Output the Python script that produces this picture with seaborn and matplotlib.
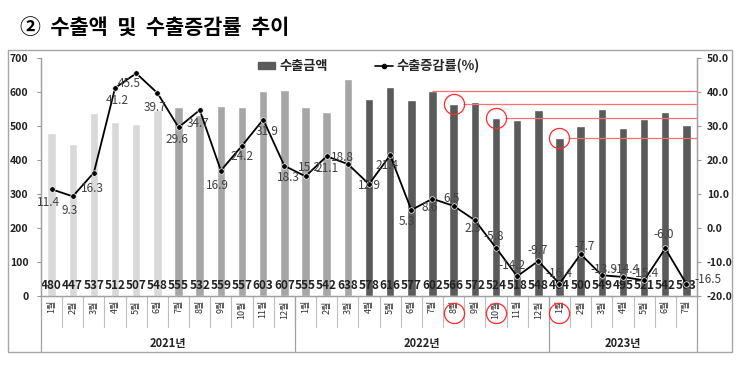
import matplotlib
matplotlib.use('Agg')
import matplotlib.pyplot as plt
import matplotlib.transforms as mtransforms
from matplotlib.patches import Rectangle, Patch
from matplotlib.lines import Line2D
import numpy as np
import pandas as pd
import seaborn as sns

# data
periods = ['2021-01', '2021-02', '2021-03', '2021-04', '2021-05', '2021-06',
           '2021-07', '2021-08', '2021-09', '2021-10', '2021-11', '2021-12',
           '2022-01', '2022-02', '2022-03', '2022-04', '2022-05', '2022-06',
           '2022-07', '2022-08', '2022-09', '2022-10', '2022-11', '2022-12',
           '2023-01', '2023-02', '2023-03', '2023-04', '2023-05', '2023-06', '2023-07']
month_labels = ['1월', '2월', '3월', '4월', '5월', '6월', '7월', '8월', '9월', '10월', '11월', '12월',
                '1월', '2월', '3월', '4월', '5월', '6월', '7월', '8월', '9월', '10월', '11월', '12월',
                '1월', '2월', '3월', '4월', '5월', '6월', '7월']
years = ['2021년', '2022년', '2023년']
year_sizes = [12, 12, 7]
export_amount = [480, 447, 537, 512, 507, 548, 555, 532, 559, 557, 603, 607,
                 555, 542, 638, 578, 616, 577, 602, 566, 572, 524, 518, 548,
                 464, 500, 549, 495, 521, 542, 503]
growth_rate = [11.4, 9.3, 16.3, 41.2, 45.5, 39.7, 29.6, 34.7, 16.9, 24.2, 31.9, 18.3,
               15.2, 21.1, 18.8, 12.9, 21.4, 5.3, 8.6, 6.5, 2.3, -5.8, -14.2, -9.7,
               -16.4, -7.7, -13.9, -14.4, -15.4, -6.0, -16.5]
shade = ['light'] * 6 + ['mid'] * 9 + ['dark'] * 16
circled = ['2022-08', '2022-10', '2023-01']
ref_start = '2022-07'

# label offsets for growth labels, in pixels (dx, dy down)
label_offsets = [(-3, 13), (-3, 14), (-2, 16), (2, 13), (-7, 10), (-2, 14), (-2, 12), (-2, 13),
                 (-3, 15), (0, 11), (4, 12), (4, 12), (4, -9), (0, 12), (-5, -7), (0, 1),
                 (-3, 10), (-4, 12), (-3, 9), (-2, -7), (-2, 8), (-2, -11), (-5, -11), (-1, -10),
                 (0, -10), (4, -8), (2, -6), (3, -7), (1, -7), (-2, -14), (22, -5)]

df = pd.DataFrame({'period': periods, 'amount': export_amount,
                   'growth': growth_rate, 'shade': shade})
df['pos'] = np.arange(len(df))

sns.set_style('white')
plt.rcParams['font.family'] = ['Noto Sans CJK KR', 'DejaVu Sans']

W, H = 743, 365
fig = plt.figure(figsize=(W / 100, H / 100), dpi=100)
ax = fig.add_axes([41 / W, (H - 296) / H, 656 / W, 238 / H])

palette = {'light': '#d9d9d9', 'mid': '#a6a6a6', 'dark': '#5a5a5a'}
sns.barplot(data=df, x='period', y='amount', hue='shade', palette=palette,
            dodge=False, width=0.4, legend=False, ax=ax, zorder=2)
ax.set_xlim(-0.5, len(df) - 0.5)
ax.set_ylim(0, 700)
ax.set_yticks(range(0, 701, 100))
ax.set_xticks(df['pos'])
ax.set_xticklabels(month_labels, rotation=90, fontsize=6.5, color='#333333')
ax.tick_params(axis='x', length=0, pad=3)
ax.tick_params(axis='y', length=3, width=0.8, color='#999999', pad=6,
               labelsize=7.5, labelcolor='#222222')
for lbl in ax.get_yticklabels():
    lbl.set_fontweight('bold')
ax.set_xlabel('')
ax.set_ylabel('')
ax.spines['top'].set_visible(False)
for side in ['left', 'right', 'bottom']:
    ax.spines[side].set_color('#a0a0a0')
    ax.spines[side].set_linewidth(0.9)

# bar value labels
for i, v in enumerate(export_amount):
    ax.annotate(str(v), (i, 0), xytext=(0, 7.5), textcoords='offset points',
                ha='center', va='center', fontsize=8.5, fontweight='bold', color='#222222')

# red reference lines and circles
pos = dict(zip(periods, df['pos']))
amt = dict(zip(periods, export_amount))
ax.hlines(amt[ref_start], pos[ref_start], len(df) - 0.5, color='#ff7070', lw=0.9, zorder=3)
for p in circled:
    ax.hlines(amt[p], pos[p] + 0.45, len(df) - 0.5, color='#ff7070', lw=0.9, zorder=3)
    ax.plot(pos[p], amt[p], marker='o', ms=14.5, mfc='none', mec='#ff2a2a', mew=0.9, zorder=4)

trans = mtransforms.blended_transform_factory(ax.transData, ax.transAxes)
for p in circled:
    ax.plot(pos[p], -0.071, marker='o', ms=14.5, mfc='none', mec='#ff2a2a', mew=0.9,
            transform=trans, clip_on=False, zorder=4)

# category grid under the axis
for k in range(len(df) - 1):
    ax.plot([k + 0.5, k + 0.5], [0, -0.13], transform=trans, color='#bdbdbd', lw=0.8, clip_on=False)
edges = [-0.5] + list(np.cumsum(year_sizes) - 0.5)
for e in edges:
    ax.plot([e, e], [0, -0.235], transform=trans, color='#a0a0a0', lw=0.9, clip_on=False)
start = 0
for y, n in zip(years, year_sizes):
    ax.text(start + (n - 1) / 2, -0.2, y, transform=trans, ha='center', va='center',
            fontsize=8, fontweight='bold', color='#222222')
    start += n

# growth line
ax2 = ax.twinx()
sns.lineplot(data=df, x='pos', y='growth', ax=ax2, color='black', lw=1.3,
             marker='o', markersize=4, markeredgecolor='white', markeredgewidth=0.5)
ax2.set_ylim(-20, 50)
ax2.set_yticks(range(-20, 51, 10))
ax2.set_yticklabels([f'{t:.1f}' for t in range(-20, 51, 10)])
ax2.tick_params(axis='y', length=3, width=0.8, color='#999999', pad=4,
                labelsize=7.5, labelcolor='#222222')
for lbl in ax2.get_yticklabels():
    lbl.set_fontweight('bold')
ax2.set_ylabel('')
ax2.set_xlabel('')
ax2.spines['top'].set_visible(False)
for side in ['left', 'right', 'bottom']:
    ax2.spines[side].set_color('#a0a0a0')
    ax2.spines[side].set_linewidth(0.9)
ax2.set_xlim(-0.5, len(df) - 0.5)

for i, (v, (dx, dy)) in enumerate(zip(growth_rate, label_offsets)):
    ax2.annotate(f'{v:.1f}', (i, v), xytext=(dx * 0.72, -dy * 0.72), textcoords='offset points',
                 ha='center', va='center', fontsize=8.5, color='#404040')

# legend
handles = [Patch(color='#5a5a5a'),
           Line2D([], [], color='black', lw=1.2, marker='o', markersize=3)]
fig.legend(handles, ['수출금액', '수출증감률(%)'], loc='center', bbox_to_anchor=(369 / W, 1 - 66 / H),
           ncol=2, frameon=False, prop={'weight': 'bold', 'size': 9.5},
           handlelength=1.3, handleheight=0.5, handletextpad=0.3, columnspacing=3.6)

# title and outer box
fig.text(20 / W, 1 - 28 / H, '②  수출액  및  수출증감률  추이', fontsize=15, fontweight='bold',
         ha='left', va='center', color='black')
fig.add_artist(Rectangle((8 / W, 1 - 352 / H), 724 / W, 302 / H, transform=fig.transFigure,
                         fill=False, ec='#a6a6a6', lw=1))

fig.savefig('out.png', dpi=100)
